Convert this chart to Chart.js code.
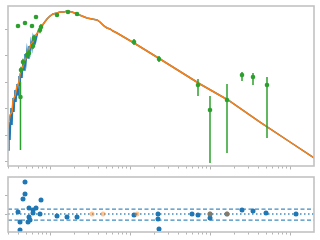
<!DOCTYPE html>
<html>
<head>
<meta charset="utf-8">
<script src="https://cdn.jsdelivr.net/npm/chart.js@4"></script>
<style>
  html, body { margin: 0; padding: 0; background: #fff; }
  #wrap { position: relative; width: 320px; height: 240px; }
  canvas { position: absolute; left: 0; }
  #sed { top: 0; }
  #res { top: 172px; }
</style>
</head>
<body>
<div id="wrap">
  <canvas id="sed" width="320" height="172"></canvas>
  <canvas id="res" width="320" height="68"></canvas>
</div>
<script>
// all wavelengths / fluxes are log10 values (micron, normalised flux)

// model spectrum (full resolution)
const modelBlueLogWave = [-1.525, -1.5125, -1.5, -1.4875, -1.475, -1.4625, -1.45, -1.4375, -1.425, -1.4125,
    -1.4, -1.3875, -1.375, -1.3625, -1.35, -1.3375, -1.325, -1.3125, -1.3, -1.2875,
    -1.275, -1.2625, -1.25, -1.2375, -1.225, -1.2125, -1.2, -1.1875, -1.175, -1.15,
    -1.125, -1.1, -1.075, -1.0375, -1.0, -0.9625, -0.9125, -0.875, -0.825, -0.7875,
    -0.725, -0.6625, -0.6, -0.5375, -0.475, -0.4125, -0.375, -0.325, -0.2875, -0.25,
    -0.2125, -0.1625, 0.05, 0.375, 0.875, 1.225, 1.625, 2.0, 2.3];
const modelBlueLogFlux = [-4.583, -3.523, -4.205, -2.992, -3.636, -2.614, -3.144, -2.311, -2.765, -2.083,
    -2.5, -1.780, -2.159, -1.477, -1.856, -1.174, -1.553, -0.947, -1.25, -0.795,
    -1.098, -0.644, -0.871, -0.492, -0.720, -0.341, -0.568, -0.227, -0.417, -0.076,
    0, 0.114, 0.227, 0.379, 0.492, 0.568, 0.606, 0.644, 0.644, 0.682,
    0.644, 0.568, 0.492, 0.417, 0.379, 0.341, 0.265, 0.114, 0.038, 0,
    -0.076, -0.152, -0.530, -1.136, -2.083, -2.689, -3.523, -4.280, -4.886];

// model spectrum (smoothed)
const modelOrangeLogWave = [-1.525, -1.5, -1.475, -1.4625, -1.4375, -1.4125, -1.3875, -1.375, -1.35, -1.325,
    -1.3, -1.2875, -1.2625, -1.2375, -1.2125, -1.1875, -1.15, -1.125, -1.1, -1.075,
    -1.0375, -1.0, -0.9625, -0.9125, -0.875, -0.825, -0.7875, -0.725, -0.6625, -0.6,
    -0.5375, -0.475, -0.4125, -0.375, -0.325, -0.2875, -0.25, -0.2125, -0.1625, 0.05,
    0.375, 0.875, 1.225, 1.625, 2.0, 2.3];
const modelOrangeLogFlux = [-3.75, -3.258, -3.144, -2.689, -2.538, -2.159, -2.008, -1.705, -1.553, -1.25,
    -1.098, -0.871, -0.795, -0.568, -0.492, -0.265, -0.114, 0, 0.114, 0.227,
    0.379, 0.492, 0.568, 0.606, 0.644, 0.644, 0.682, 0.644, 0.568, 0.492,
    0.417, 0.379, 0.341, 0.265, 0.114, 0.038, 0, -0.076, -0.152, -0.530,
    -1.136, -2.083, -2.689, -3.523, -4.280, -4.886];

// photometry with error bars (null = no bar)
const photLogWave = [-1.4, -1.3125, -1.225, -1.175, -1.369, -1.3625, -1.3375, -1.2875, -1.2625, -1.2125,
    -1.2, -1.125, -1.1125, -0.9125, -0.775, -0.6625, 0.05, 0.3625, 0.85, 1.0,
    1.2125, 1.4, 1.5375, 1.7125];
const photLogFlux = [0.114, 0.227, 0.114, 0.455, -2.576, -1.553, -1.25, -0.985, -0.909, -0.644,
    -0.341, -0.038, 0.076, 0.530, 0.644, 0.568, -0.492, -1.136, -2.121, -3.068,
    -2.689, -1.742, -1.818, -2.121];
const photLogLo = [null, null, null, null, -4.583, -1.67, -1.37, -1.10, -1.03, -0.76,
    -0.46, -0.16, -0.04, null, null, null, -0.606, -1.25, -2.538, -5.076,
    -4.697, -1.970, -2.121, -4.129];
const photLogHi = [null, null, null, null, -2.008, -1.43, -1.13, -0.87, -0.79, -0.52,
    -0.22, 0.08, 0.19, null, null, null, -0.379, -1.023, -1.894, -2.538,
    -2.083, -1.629, -1.667, -1.818];

// residuals
const resLogWave = [-1.3125, -1.3125, -1.3375, -1.4, -1.375, -1.375, -1.2625, -1.2625, -1.275, -1.25,
    -1.2125, -1.2125, -1.175, -1.1125, -1.125, -0.9125, -0.7875, -0.6625, 0.05, 0.35,
    0.35, 0.3625, 0.775, 0.85, 1.0, 1.0, 1.2125, 1.4, 1.5375, 1.7, 2.075];
const resValue = [1.684, 1.053, 0.789, 0.105, -0.421, -0.842, 0.316, -0.158, -0.421, -0.316,
    0.211, 0.053, 0.316, 0.737, 0, -0.105, -0.158, -0.158, -0.053, 0,
    -0.263, -0.789, 0, -0.053, -0.211, 0, 0, 0.211, 0.158, 0.053, 0];
const resExcludedLogWave = [-0.475, -0.3375, 0.0875, 1.0, 1.2125];
const resExcludedValue = [0, 0, 0, 0, 0];
const resBands = [0.26, -0.32];

// axis limits and ticks
const xLogRange = [-1.525, 2.3];
const sedLogRange = [-5.189, 0.871];
const resRange = [-0.95, 1.95];
const xDecades = [-2, -1, 0, 1, 2];
const sedYTicks = [1e-5, 1e-4, 1e-3, 1e-2, 1e-1, 1];
const resYTicks = [0, 1];

const pow = v => Math.pow(10, v);
const toPoints = (lw, vals, logY) => lw.map((w, i) => ({ x: pow(w), y: logY ? pow(vals[i]) : vals[i] }));

// draws grey frame + small outward tick marks
const axesFrame = {
    id: 'axesFrame',
    afterDraw(chart, args, opts) {
        const { ctx, chartArea: a } = chart;
        const xs = chart.scales.x, ys = chart.scales.y;
        ctx.save();
        ctx.strokeStyle = '#b3b3b3';
        ctx.lineWidth = 1;
        ctx.beginPath();
        xDecades.forEach(d => {
            for (let m = 1; m < 10; m++) {
                const v = m * pow(d);
                if (v < xs.min || v > xs.max) continue;
                const px = Math.round(xs.getPixelForValue(v)) + 0.5;
                ctx.moveTo(px, a.bottom);
                ctx.lineTo(px, a.bottom + (m === 1 ? 3.5 : 2.5));
            }
        });
        opts.yTicks.forEach(v => {
            const py = Math.round(ys.getPixelForValue(v)) + 0.5;
            ctx.moveTo(a.left, py);
            ctx.lineTo(a.left - 3, py);
        });
        ctx.stroke();
        ctx.strokeStyle = '#c2c2c2';
        ctx.lineWidth = 1.6;
        ctx.strokeRect(a.left, a.top, a.right - a.left, a.bottom - a.top);
        ctx.restore();
    }
};

// vertical error bars under the photometry points
const errorBars = {
    id: 'errorBars',
    beforeDatasetDraw(chart, args) {
        const ds = chart.data.datasets[args.index];
        if (!ds.errLo) return;
        const { ctx, chartArea: a } = chart;
        ctx.save();
        ctx.beginPath();
        ctx.rect(a.left, a.top, a.right - a.left, a.bottom - a.top);
        ctx.clip();
        ctx.strokeStyle = ds.borderColor;
        ctx.lineWidth = 1.5;
        ds.data.forEach((p, i) => {
            if (ds.errLo[i] == null) return;
            const px = chart.scales.x.getPixelForValue(p.x);
            ctx.beginPath();
            ctx.moveTo(px, chart.scales.y.getPixelForValue(ds.errLo[i]));
            ctx.lineTo(px, chart.scales.y.getPixelForValue(ds.errHi[i]));
            ctx.stroke();
        });
        ctx.restore();
    }
};

const xScale = { type: 'logarithmic', display: false, min: pow(xLogRange[0]), max: pow(xLogRange[1]) };

new Chart(document.getElementById('sed'), {
    type: 'scatter',
    data: {
        datasets: [
            {
                label: 'model',
                data: toPoints(modelBlueLogWave, modelBlueLogFlux, true),
                showLine: true, borderColor: '#1f77b4', borderWidth: 1.5, pointRadius: 0, order: 3
            },
            {
                label: 'model smoothed',
                data: toPoints(modelOrangeLogWave, modelOrangeLogFlux, true),
                showLine: true, borderColor: '#ff7f0e', borderWidth: 1.5, pointRadius: 0, order: 2
            },
            {
                label: 'photometry',
                data: toPoints(photLogWave, photLogFlux, true),
                borderColor: '#2ca02c', backgroundColor: '#2ca02c',
                pointRadius: 2.3, pointBorderWidth: 0, order: 1,
                errLo: photLogLo.map(v => v == null ? null : pow(v)),
                errHi: photLogHi.map(v => v == null ? null : pow(v))
            }
        ]
    },
    options: {
        responsive: false,
        animation: false,
        devicePixelRatio: 1,
        layout: { padding: { left: 8, right: 6, top: 6, bottom: 6 } },
        plugins: {
            legend: { display: false },
            tooltip: { enabled: false },
            axesFrame: { yTicks: sedYTicks }
        },
        scales: {
            x: xScale,
            y: { type: 'logarithmic', display: false, min: pow(sedLogRange[0]), max: pow(sedLogRange[1]) }
        }
    },
    plugins: [errorBars, axesFrame]
});

const xEnds = [pow(xLogRange[0]), pow(xLogRange[1])];
const hLine = (y, dash, label) => ({
    label: label,
    data: xEnds.map(x => ({ x: x, y: y })),
    showLine: true, borderColor: 'rgba(31,119,180,0.85)', borderWidth: 1.3,
    borderDash: dash, pointRadius: 0, order: 5
});

new Chart(document.getElementById('res'), {
    type: 'scatter',
    data: {
        datasets: [
            hLine(0, [1.5, 2.5], 'zero'),
            hLine(resBands[0], [4, 2.5], 'upper'),
            hLine(resBands[1], [4, 2.5], 'lower'),
            {
                label: 'residuals',
                data: toPoints(resLogWave, resValue, false),
                backgroundColor: '#1f77b4', borderColor: '#1f77b4',
                pointRadius: 2.5, pointBorderWidth: 0, order: 2
            },
            {
                label: 'excluded',
                data: toPoints(resExcludedLogWave, resExcludedValue, false),
                backgroundColor: 'rgba(255,127,14,0.45)', borderColor: 'rgba(255,127,14,0.45)',
                pointRadius: 2.5, pointBorderWidth: 0, order: 1
            }
        ]
    },
    options: {
        responsive: false,
        animation: false,
        devicePixelRatio: 1,
        layout: { padding: { left: 8, right: 6, top: 5, bottom: 8 } },
        plugins: {
            legend: { display: false },
            tooltip: { enabled: false },
            axesFrame: { yTicks: resYTicks }
        },
        scales: {
            x: xScale,
            y: { type: 'linear', display: false, min: resRange[0], max: resRange[1] }
        }
    },
    plugins: [axesFrame]
});
</script>
</body>
</html>
